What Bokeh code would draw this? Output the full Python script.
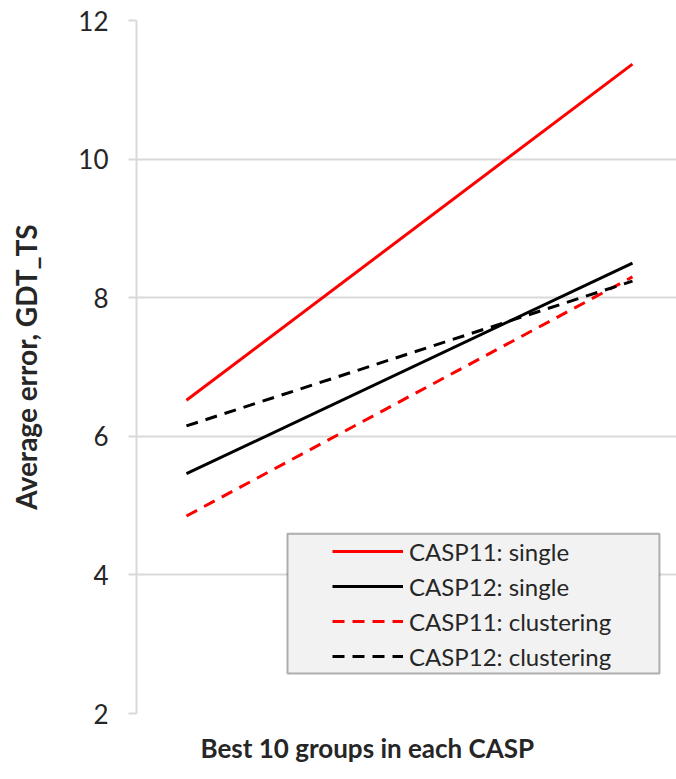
from bokeh.plotting import figure
from bokeh.models import (Range1d, FixedTicker, Legend, LegendItem, BoxAnnotation, Title)
from bokeh.embed import file_html
from bokeh.resources import INLINE

# Data
x = [1, 2]
casp11_single = [6.52, 11.37]
casp12_single = [5.46, 8.50]
casp11_clustering = [4.85, 8.30]
casp12_clustering = [6.15, 8.24]
y_ticks = [2, 4, 6, 8, 10, 12]
x_title = "Best 10 groups in each CASP"
y_title = "Average error, GDT_TS"

FONT = "Lato"
TXT = "#262626"
GRID = "#d9d9d9"

p = figure(width=676, height=779, output_backend="svg", toolbar_location=None,
           x_range=Range1d(0.888, 2.0987), y_range=Range1d(2, 12),
           min_border_left=136, min_border_right=0, min_border_top=20, min_border_bottom=65)
p.outline_line_color = None
p.xaxis.visible = False
p.xgrid.visible = False

p.yaxis.ticker = FixedTicker(ticks=y_ticks)
p.yaxis.minor_tick_line_color = None
p.yaxis.major_tick_out = 8
p.yaxis.major_tick_in = 0
p.yaxis.major_tick_line_color = GRID
p.yaxis.major_tick_line_width = 2
p.yaxis.axis_line_color = GRID
p.yaxis.axis_line_width = 2
p.yaxis.major_label_standoff = 20
p.yaxis.major_label_text_font = FONT
p.yaxis.major_label_text_font_size = "26px"
p.yaxis.major_label_text_color = TXT
p.yaxis.axis_label = y_title
p.yaxis.axis_label_text_font = FONT
p.yaxis.axis_label_text_font_size = "28px"
p.yaxis.axis_label_text_font_style = "bold"
p.yaxis.axis_label_text_color = TXT
p.yaxis.axis_label_standoff = 32

p.ygrid.ticker = FixedTicker(ticks=y_ticks)
p.ygrid.grid_line_color = GRID
p.ygrid.grid_line_width = 2

r1 = p.line(x, casp11_single, line_color="#ff0000", line_width=3)
r2 = p.line(x, casp12_single, line_color="#000000", line_width=3)
r3 = p.line(x, casp11_clustering, line_color="#ff0000", line_width=3, line_dash="12 8")
r4 = p.line(x, casp12_clustering, line_color="#000000", line_width=3, line_dash="12 8")

box = BoxAnnotation(left=1.2265, right=2.0605, bottom=2.576, top=4.594,
                    fill_color="#f2f2f2", fill_alpha=1, line_color="#000000", line_width=2)
p.add_layout(box)

legend = Legend(items=[
    LegendItem(label="CASP11: single", renderers=[r1]),
    LegendItem(label="CASP12: single", renderers=[r2]),
    LegendItem(label="CASP11: clustering", renderers=[r3]),
    LegendItem(label="CASP12: clustering", renderers=[r4]),
], location=(196, 42), padding=0, margin=0, spacing=5,
   glyph_width=71, glyph_height=30, label_height=30, label_standoff=6,
   label_text_font=FONT, label_text_font_size="24px", label_text_color=TXT,
   background_fill_alpha=0, border_line_alpha=0)
p.add_layout(legend, "center")

t = Title(text=x_title, align="left", offset=64,
          text_font=FONT, text_font_size="26px", text_font_style="bold", text_color=TXT,
          standoff=32)
p.add_layout(t, "below")

open("out.html", "w").write(file_html(p, INLINE))
